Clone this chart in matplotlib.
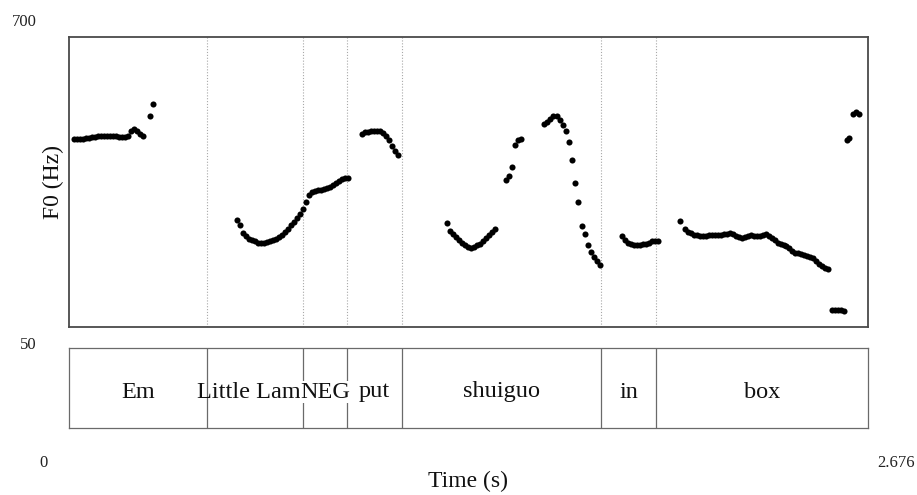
import matplotlib
matplotlib.use("Agg")
import matplotlib.pyplot as plt

# ---- pitch track (s, Hz), one list pair per stretch of voicing ----
em_t = [0.017, 0.027, 0.037, 0.047, 0.057, 0.067, 0.077, 0.087, 0.097, 0.107,
        0.117, 0.127, 0.137, 0.147, 0.157, 0.167, 0.177, 0.187, 0.197, 0.207,
        0.217, 0.227, 0.237, 0.247, 0.271, 0.281]
em_hz = [471, 471, 471, 472, 473, 474, 475, 476, 477, 478,
         478, 478, 478, 478, 477, 476, 476, 475, 478, 489,
         494, 489, 483, 478, 523, 550]

lamb_neg_t = [0.563, 0.573, 0.583, 0.593, 0.603, 0.613, 0.623, 0.633, 0.643, 0.653,
              0.663, 0.673, 0.683, 0.693, 0.703, 0.713, 0.723, 0.733, 0.743, 0.753,
              0.763, 0.773, 0.783, 0.793, 0.803, 0.813, 0.823, 0.833, 0.843, 0.853,
              0.863, 0.873, 0.883, 0.893, 0.903, 0.913, 0.923, 0.933]
lamb_neg_hz = [290, 279, 261, 254, 248, 245, 242, 239, 238, 239,
               240, 243, 245, 247, 252, 256, 263, 270, 279, 285,
               294, 303, 315, 330, 346, 353, 355, 356, 357, 359,
               362, 364, 368, 373, 377, 382, 384, 385]

put_t = [0.981, 0.991, 1.001, 1.011, 1.021, 1.031, 1.041, 1.051, 1.061, 1.071,
         1.081, 1.091, 1.101]
put_hz = [483, 486, 488, 489, 490, 490, 489, 485, 478, 469, 456, 445, 435]

shui_t = [1.266, 1.276, 1.286, 1.296, 1.306, 1.316, 1.326, 1.336, 1.346, 1.356,
          1.366, 1.376, 1.386, 1.396, 1.406, 1.416, 1.426]
shui_hz = [283, 265, 259, 252, 245, 238, 233, 229, 228, 229,
           233, 237, 243, 250, 256, 263, 270]

guo_rise_t = [1.463, 1.473, 1.483, 1.493, 1.503, 1.513]
guo_rise_hz = [380, 389, 409, 458, 469, 471]

guo_peak_t = [1.591, 1.601, 1.612, 1.622, 1.633, 1.643, 1.654, 1.664, 1.675, 1.685,
              1.696, 1.706, 1.717, 1.727, 1.738, 1.748, 1.759, 1.769, 1.780]
guo_peak_hz = [504, 510, 516, 523, 523, 514, 503, 489, 464, 424,
               373, 330, 276, 259, 233, 219, 208, 198, 188]

in_t = [1.852, 1.862, 1.872, 1.882, 1.892, 1.902, 1.912, 1.922, 1.932, 1.942,
        1.952, 1.962, 1.972]
in_hz = [253, 245, 238, 235, 233, 233, 234, 235, 237, 239, 242, 243, 243]

box_t = [2.046, 2.063, 2.073, 2.083, 2.093, 2.103, 2.113, 2.123, 2.133, 2.143,
         2.153, 2.163, 2.173, 2.183, 2.193, 2.203, 2.213, 2.223, 2.233, 2.243,
         2.253, 2.263, 2.273, 2.283, 2.293, 2.303, 2.313, 2.323, 2.333, 2.343,
         2.353, 2.363, 2.373, 2.383, 2.393, 2.403, 2.413, 2.423, 2.433, 2.443,
         2.453, 2.463, 2.473, 2.483, 2.493, 2.503, 2.513, 2.523, 2.533, 2.543]
box_hz = [288, 270, 264, 261, 257, 256, 255, 254, 255, 256,
          256, 256, 257, 257, 259, 259, 260, 259, 255, 251,
          250, 252, 255, 257, 255, 254, 255, 257, 259, 255,
          250, 244, 239, 236, 234, 232, 227, 220, 215, 215,
          214, 211, 209, 207, 204, 199, 191, 186, 182, 180]

tail_low_t = [2.555, 2.565, 2.575, 2.585, 2.595]
tail_low_hz = [89, 88, 88, 87, 86]

tail_high_t = [2.604, 2.614, 2.626, 2.636, 2.646]
tail_high_hz = [469, 473, 527, 533, 527]

# ---- word tier ----
word_bounds = [0.0, 0.462, 0.784, 0.931, 1.115, 1.782, 1.966, 2.676]
word_labels = ["Em", "Little Lamb", "NEG", "put", "shuiguo", "in", "box"]

t_min, t_max = 0.0, 2.676
f_min, f_max = 50, 700

SERIF = ["Liberation Serif", "DejaVu Serif"]
plt.rcParams["font.family"] = SERIF

W, H = 917, 495
fig = plt.figure(figsize=(W / 100, H / 100), dpi=100)


def frac(x0, y0, x1, y1):
    return [x0 / W, 1 - y1 / H, (x1 - x0) / W, (y1 - y0) / H]


# pitch panel
ax = fig.add_axes(frac(69, 37, 868, 327))
ax.set_xlim(t_min, t_max)
ax.set_ylim(f_min, f_max)
ax.set_xticks([])
ax.set_yticks([])
for sp in ax.spines.values():
    sp.set_color("#4a4a4a")
    sp.set_linewidth(1.3)

for b in word_bounds[1:-1]:
    ax.axvline(b, color="#a8a8a8", linewidth=0.8, linestyle=(0, (1, 1.6)), zorder=1)

segments = [(em_t, em_hz), (lamb_neg_t, lamb_neg_hz), (put_t, put_hz),
            (shui_t, shui_hz), (guo_rise_t, guo_rise_hz), (guo_peak_t, guo_peak_hz),
            (in_t, in_hz), (box_t, box_hz), (tail_low_t, tail_low_hz),
            (tail_high_t, tail_high_hz)]
for ts, fs in segments:
    ax.plot(ts, fs, linestyle="none", marker="o", markersize=4.4,
            markerfacecolor="black", markeredgewidth=0, zorder=3)

# word tier panel
tier = fig.add_axes(frac(69, 348, 868, 428))
tier.set_xlim(t_min, t_max)
tier.set_ylim(0, 1)
tier.set_xticks([])
tier.set_yticks([])
for sp in tier.spines.values():
    sp.set_color("#6a6a6a")
    sp.set_linewidth(0.9)
for b in word_bounds[1:-1]:
    tier.axvline(b, color="#6a6a6a", linewidth=0.9, zorder=1)
for i, lab in enumerate(word_labels):
    mid = 0.5 * (word_bounds[i] + word_bounds[i + 1])
    tier.text(mid, 0.45, lab, ha="center", va="center", fontsize=17.5,
              color="#111111", zorder=2 + i,
              bbox=dict(facecolor="white", edgecolor="none", pad=0.3) if lab == "NEG" else None)

# corner values and axis titles
fig.text(37 / W, 1 - 22 / H, str(f_max), ha="right", va="center", fontsize=12, color="#222222")
fig.text(37 / W, 1 - 345 / H, str(f_min), ha="right", va="center", fontsize=12, color="#222222")
fig.text(44 / W, 1 - 463 / H, "0", ha="center", va="center", fontsize=12, color="#222222")
fig.text(896 / W, 1 - 463 / H, f"{t_max:.3f}", ha="center", va="center", fontsize=12, color="#222222")
fig.text(468 / W, 1 - 481 / H, "Time (s)", ha="center", va="center", fontsize=17, color="#111111")
fig.text(53 / W, 1 - 182 / H, "F0 (Hz)", ha="center", va="center", rotation=90,
         fontsize=17, color="#111111")

fig.savefig("out.png", dpi=100, facecolor="white")
